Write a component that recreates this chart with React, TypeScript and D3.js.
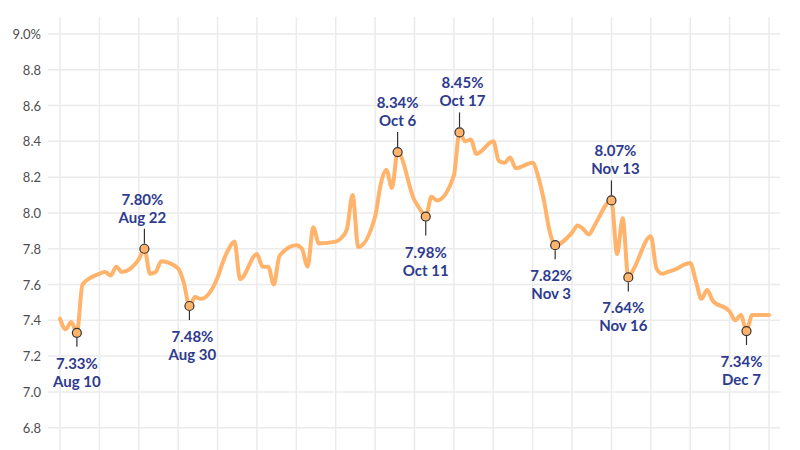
import React from "react";
import * as d3 from "d3";

// Week start (Monday) for each row of weekday rates
const weekStarts = [
  "2023-08-07", "2023-08-14", "2023-08-21", "2023-08-28", "2023-09-04",
  "2023-09-11", "2023-09-18", "2023-09-25", "2023-10-02", "2023-10-09",
  "2023-10-16", "2023-10-23", "2023-10-30", "2023-11-06", "2023-11-13",
  "2023-11-20", "2023-11-27", "2023-12-04", "2023-12-11",
];

// Daily rate (%), Monday..Friday of each week
const rates = [
  [7.41, 7.35, 7.39, 7.33, 7.6],
  [7.66, 7.67, 7.65, 7.7, 7.67],
  [7.74, 7.8, 7.66, 7.67, 7.73],
  [7.69, 7.61, 7.48, 7.53, 7.52],
  [7.64, 7.73, 7.8, 7.84, 7.63],
  [7.77, 7.7, 7.7, 7.6, 7.76],
  [7.82, 7.8, 7.7, 7.92, 7.83],
  [7.84, 7.86, 7.91, 8.1, 7.81],
  [7.98, 8.16, 8.24, 8.14, 8.34],
  [8.07, 8.02, 7.98, 8.09, 8.07],
  [8.21, 8.45, 8.4, 8.41, 8.33],
  [8.4, 8.29, 8.28, 8.31, 8.25],
  [8.28, 8.2, 8.07, 7.9, 7.82],
  [7.89, 7.93, 7.91, 7.88, 7.93],
  [8.07, 7.77, 7.97, 7.64, 7.69],
  [7.87, 7.69, 7.66, 7.67, 7.68],
  [7.72, 7.62, 7.52, 7.57, 7.51],
  [7.45, 7.4, 7.43, 7.34, 7.43],
  [7.43],
];

const yTicks = [6.8, 7.0, 7.2, 7.4, 7.6, 7.8, 8.0, 8.2, 8.4, 8.6, 8.8, 9.0];

const annDates = [
  "2023-08-10", "2023-08-22", "2023-08-30", "2023-10-06", "2023-10-11",
  "2023-10-17", "2023-11-03", "2023-11-13", "2023-11-16", "2023-12-07",
];
const annLabels = [
  "Aug 10", "Aug 22", "Aug 30", "Oct 6", "Oct 11",
  "Oct 17", "Nov 3", "Nov 13", "Nov 16", "Dec 7",
];
const annSide = [
  "below", "above", "below", "above", "below",
  "above", "below", "above", "below", "below",
];

// label layout nudges (px)
const nudgeX: Record<string, number> = {
  "Aug 22": -2, "Aug 30": 3, "Oct 17": 3, "Nov 3": -4,
  "Nov 13": 4, "Nov 16": -5, "Dec 7": -5,
};
const extraDrop: Record<string, number> = { "Oct 11": 5 };

const LINE_COLOR = "#ffb36b";
const TEXT_BLUE = "#2e3b8e";
const GRID = "#ebebeb";

export default function App() {
  const W = 800;
  const H = 450;
  const parse = d3.utcParse("%Y-%m-%d");

  const points: { date: Date; value: number }[] = [];
  weekStarts.forEach((ws, i) => {
    const d0 = parse(ws) as Date;
    rates[i].forEach((v, j) => {
      points.push({ date: d3.utcDay.offset(d0, j), value: v });
    });
  });

  const start = parse("2023-08-07") as Date;
  const end = parse("2023-12-11") as Date;
  const x = d3.scaleUtc().domain([start, end]).range([60, 769]);
  const y = d3.scaleLinear().domain([6.8, 9.0]).range([427.7, 34]);

  const line = d3
    .line<{ date: Date; value: number }>()
    .x((d) => x(d.date))
    .y((d) => y(d.value))
    .curve(d3.curveMonotoneX);

  const gridX = d3.utcMonday.range(start, d3.utcDay.offset(end, 1));

  const byDate = new Map(points.map((p) => [+p.date, p.value]));
  const anns = annDates.map((ds, i) => {
    const d = parse(ds) as Date;
    return { date: d, value: byDate.get(+d) as number, label: annLabels[i], side: annSide[i] };
  });

  const fontFam = "Lato, 'Open Sans', sans-serif";

  return (
    <svg
      width={W}
      height={H}
      style={{ position: "absolute", left: 0, top: 0, background: "#fff" }}
    >
      <rect x={0} y={0} width={W} height={H} fill="#fff" />
      {/* vertical grid */}
      {gridX.map((d, i) => (
        <line key={"gx" + i} x1={x(d)} x2={x(d)} y1={17} y2={450} stroke={GRID} strokeWidth={1.5} />
      ))}
      {/* horizontal grid */}
      {yTicks.map((t, i) => (
        <line key={"gy" + i} x1={48} x2={780} y1={y(t)} y2={y(t)} stroke={GRID} strokeWidth={1.5} />
      ))}
      {/* y labels */}
      {yTicks.map((t, i) => (
        <text
          key={"yl" + i}
          x={41}
          y={y(t)}
          textAnchor="end"
          dominantBaseline="central"
          fontFamily={fontFam}
          fontSize={13}
          fill="#4d4d4d"
        >
          {t === 9.0 ? d3.format(".1f")(t) + "%" : d3.format(".1f")(t)}
        </text>
      ))}
      {/* line */}
      <path d={line(points) || ""} fill="none" stroke={LINE_COLOR} strokeWidth={4} strokeLinejoin="round" strokeLinecap="round" />
      {/* annotations */}
      {anns.map((a, i) => {
        const cx = x(a.date);
        const cy = y(a.value);
        const tx = cx + (nudgeX[a.label] || 0);
        const above = a.side === "above";
        const ex = extraDrop[a.label] || 0;
        const l1 = above ? cy - 5 : cy + 5;
        const l2 = above ? cy - 20 : cy + 14 + ex;
        const vY = above ? cy - 50 : cy + 30 + ex;
        const dY = above ? cy - 32 : cy + 48 + ex;
        return (
          <g key={"a" + i}>
            <line x1={cx} x2={cx} y1={l1} y2={l2} stroke="#333" strokeWidth={1.2} />
            <circle cx={cx} cy={cy} r={4.5} fill={LINE_COLOR} stroke="#333" strokeWidth={1.2} />
            <text
              x={tx}
              y={vY}
              textAnchor="middle"
              dominantBaseline="central"
              fontFamily={fontFam}
              fontWeight={700}
              fontSize={15}
              fill={TEXT_BLUE}
            >
              {d3.format(".2f")(a.value) + "%"}
            </text>
            <text
              x={tx}
              y={dY}
              textAnchor="middle"
              dominantBaseline="central"
              fontFamily={fontFam}
              fontWeight={700}
              fontSize={15}
              fill={TEXT_BLUE}
            >
              {a.label}
            </text>
          </g>
        );
      })}
    </svg>
  );
}
